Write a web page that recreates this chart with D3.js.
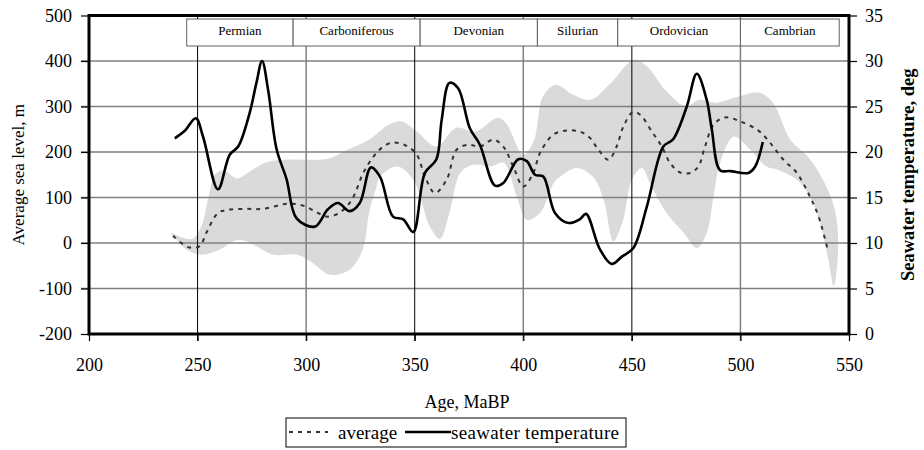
<!DOCTYPE html>
<html>
<head>
<meta charset="utf-8">
<script src="https://cdn.jsdelivr.net/npm/d3@7"></script>
<style>
  body { margin: 0; background: #fff; }
  svg text { font-family: "Liberation Serif", "Times New Roman", serif; fill: #000; }
</style>
</head>
<body>
<svg id="chart" width="924" height="450"></svg>
<script>
// ages (MaBP) and values
var periodNames = ["Permian", "Carboniferous", "Devonian", "Silurian", "Ordovician", "Cambrian"];
var periodBounds = [245, 294, 352.5, 406.5, 443.5, 500, 545.5];

var xTicks = [200, 250, 300, 350, 400, 450, 500, 550];
var levelTicks = [-200, -100, 0, 100, 200, 300, 400, 500];
var tempTicks = [0, 5, 10, 15, 20, 25, 30, 35];

// average sea level, m
var avgAge = [238.7, 245.6, 251, 254, 259.4, 264, 272, 280, 291, 298, 304, 309.4, 315.5, 321, 326.3, 331, 335, 340, 346, 351, 354.7, 359.3, 364.7, 369.3, 374.7, 380, 386.2, 390.8, 395.4, 400, 404.6, 407.7, 413.8, 420, 426, 430.7, 434.6, 439.2, 443, 446.1, 450.5, 453.8, 459.2, 463.8, 467.6, 472.2, 476.8, 480.6, 483.7, 487.6, 493, 500, 508.3, 513.7, 519.8, 526, 532, 536, 540];
var avgLevel = [16, -9, -7, 22, 66, 73, 75, 75, 86, 83, 70, 58, 67, 95, 154, 190, 210, 221, 214, 194, 146, 110, 139, 205, 216, 212, 227, 212, 168, 124, 154, 198, 238, 247, 245, 231, 205, 183, 212, 256, 288, 282, 245, 212, 176, 155, 154, 168, 212, 260, 276, 267, 247, 220, 183, 154, 102, 58, -11];

// seawater temperature, deg
var tempAge = [239.5, 244, 249.2, 252.5, 259.4, 264.8, 268.7, 274, 277.1, 279.7, 282.5, 286.4, 291, 295.6, 304, 310, 314.7, 320, 324.7, 329.8, 334, 340, 344.7, 349.3, 354.7, 360, 362.4, 366, 370, 375.4, 380, 387, 390.8, 397.7, 401.6, 405.4, 409.2, 414.6, 420.7, 426, 428.9, 435.3, 440.7, 445.4, 450.7, 456.9, 464.5, 469, 475.3, 479.9, 484.5, 486.8, 490.6, 495.3, 503.7, 506.8, 510.3];
var tempValue = [21.5, 22.3, 23.7, 21.7, 15.9, 19.7, 20.6, 24.3, 27.6, 30, 26.8, 20.3, 17, 12.7, 11.8, 13.7, 14.4, 13.5, 14.4, 18.3, 17.3, 12.9, 12.6, 11.2, 17.7, 19.2, 23.5, 27.6, 27, 22.6, 20.8, 16.3, 16.6, 19.2, 19, 17.5, 17.3, 13.3, 12.2, 12.6, 13.2, 9.3, 7.7, 8.5, 9.45, 14, 20.6, 21.4, 25, 28.6, 25.7, 22.5, 18, 17.9, 17.7, 18.4, 21.1];

// grey spread band, m (upper edge left to right, lower edge right to left)
var bandUpperAge = [238, 243, 248, 252, 255, 258, 262, 268, 275, 282, 290, 300, 310, 319, 329, 338, 344, 351, 360, 369, 378, 388, 392, 400, 405, 409, 415, 423, 431, 440, 451, 457, 466, 475, 481, 489, 497, 509, 515, 523, 531, 538, 543.5, 545, 543];
var bandUpper = [22, 12, 10, 40, 100, 150, 160, 142, 160, 178, 183, 183, 185, 205, 227, 260, 267, 245, 212, 253, 245, 275, 264, 194, 227, 322, 348, 326, 315, 350, 403, 388, 333, 300, 315, 308, 319, 330, 308, 227, 190, 139, 73, -10, -95];
var bandLowerAge = [540.5, 536.7, 532, 526, 517, 512, 504.5, 497, 490.6, 487.6, 484.5, 480, 474, 466, 459, 454.6, 450, 446, 441.5, 437, 432, 424.6, 417, 414, 407.7, 401.6, 397, 391, 385, 377, 371, 366, 361.6, 357, 349.3, 342, 334, 332.4, 329, 326, 320, 311, 303, 296, 285, 277, 269, 260, 252, 245, 239.5];
var bandLower = [-37, 44, 102, 139, 161, 168, 205, 234, 176, 102, 22, -11, 22, 66, 124, 165, 139, 51, 4, 95, 146, 165, 146, 132, 66, 51, 102, 176, 168, 172, 154, 66, 9, 36, 139, 168, 146, 124, 66, -15, -59, -70, -44, -26, -26, -7, 7, -15, -26, -15, 12];

var svg = d3.select("#chart");
var plotLeft = 89, plotRight = 849, plotTop = 15.5, plotBottom = 334;

var x = d3.scaleLinear().domain([200, 550]).range([plotLeft, plotRight]);
var yLevel = d3.scaleLinear().domain([-200, 500]).range([plotBottom, plotTop]);
var yTemp = d3.scaleLinear().domain([0, 35]).range([plotBottom, plotTop]);

// band
var bandPts = [];
bandUpperAge.forEach(function(a, i) { bandPts.push([x(a), yLevel(bandUpper[i])]); });
bandLowerAge.forEach(function(a, i) { bandPts.push([x(a), yLevel(bandLower[i])]); });
svg.append("path")
	.attr("d", d3.line().curve(d3.curveCatmullRomClosed.alpha(0.5))(bandPts))
	.attr("fill", "#dadada")
	.attr("stroke", "none");

// grid
svg.append("g").selectAll("line").data(levelTicks.slice(1, -1)).join("line")
	.attr("x1", plotLeft - 8).attr("x2", plotRight)
	.attr("y1", function(d) { return yLevel(d); })
	.attr("y2", function(d) { return yLevel(d); })
	.attr("stroke", "#808080").attr("stroke-width", 1.5);
svg.append("g").selectAll("line").data(xTicks.slice(1, -1)).join("line")
	.attr("x1", function(d) { return x(d); })
	.attr("x2", function(d) { return x(d); })
	.attr("y1", plotTop).attr("y2", plotBottom + 7)
	.attr("stroke", function(d) { return d % 100 == 0 ? "#808080" : "#000"; })
	.attr("stroke-width", function(d) { return d % 100 == 0 ? 1.5 : 1; });

// period boxes
var boxTop = 19, boxBottom = 46;
var boxes = svg.append("g");
periodNames.forEach(function(name, i) {
	var x0 = x(periodBounds[i]), x1 = x(periodBounds[i + 1]);
	boxes.append("rect")
		.attr("x", x0).attr("y", boxTop)
		.attr("width", x1 - x0).attr("height", boxBottom - boxTop)
		.attr("fill", "#fff").attr("stroke", "#606060").attr("stroke-width", 1);
	boxes.append("text")
		.text(name)
		.attr("x", (x0 + x1) / 2).attr("y", 34.5)
		.attr("text-anchor", "middle")
		.style("font-size", "13px");
});

// series
svg.append("path")
	.attr("d", d3.line()
		.x(function(d, i) { return x(avgAge[i]); })
		.y(function(d) { return yLevel(d); })
		.curve(d3.curveCatmullRom.alpha(0.5))(avgLevel))
	.attr("fill", "none").attr("stroke", "#333")
	.attr("stroke-width", 2).attr("stroke-dasharray", "4,5");

svg.append("path")
	.attr("d", d3.line()
		.x(function(d, i) { return x(tempAge[i]); })
		.y(function(d) { return yTemp(d); })
		.curve(d3.curveCatmullRom.alpha(0.5))(tempValue))
	.attr("fill", "none").attr("stroke", "#000")
	.attr("stroke-width", 2.6).attr("stroke-linejoin", "round");

// frame
svg.append("rect")
	.attr("x", plotLeft).attr("y", plotTop)
	.attr("width", plotRight - plotLeft).attr("height", plotBottom - plotTop)
	.attr("fill", "none").attr("stroke", "#000").attr("stroke-width", 3);

// axes (plain hyphen for negatives, like the original)
var plain = function(d) { return String(d); };
var gLeft = svg.append("g").attr("transform", "translate(" + plotLeft + ",0)")
	.call(d3.axisLeft(yLevel).tickValues(levelTicks).tickFormat(plain).tickSize(8).tickPadding(9));
var gRight = svg.append("g").attr("transform", "translate(" + plotRight + ",0)")
	.call(d3.axisRight(yTemp).tickValues(tempTicks).tickFormat(plain).tickSize(8).tickPadding(8));
var gBottom = svg.append("g").attr("transform", "translate(0," + plotBottom + ")")
	.call(d3.axisBottom(x).tickValues(xTicks).tickFormat(plain).tickSize(7).tickPadding(17));
[gLeft, gRight, gBottom].forEach(function(g) {
	g.select(".domain").remove();
	g.selectAll(".tick line").attr("stroke", "#000").attr("stroke-width", 1.2);
	g.selectAll("text")
		.style("font-family", "'Liberation Serif', 'Times New Roman', serif")
		.style("font-size", "18px").attr("fill", "#000");
});

// titles
svg.append("text")
	.text("Average sea level, m")
	.attr("transform", "translate(18," + (plotTop + plotBottom) / 2 + ") rotate(-90)")
	.attr("dy", "0.35em")
	.attr("text-anchor", "middle")
	.style("font-size", "17px");
svg.append("text")
	.text("Seawater temperature, deg")
	.attr("transform", "translate(908," + (plotTop + plotBottom) / 2 + ") rotate(-90)")
	.attr("dy", "0.35em")
	.attr("text-anchor", "middle")
	.style("font-size", "18.5px").style("font-weight", "bold");
svg.append("text")
	.text("Age, MaBP")
	.attr("x", 467).attr("y", 407.5)
	.attr("text-anchor", "middle")
	.style("font-size", "18px");

// legend
var lg = svg.append("g");
lg.append("rect")
	.attr("x", 286).attr("y", 418).attr("width", 340).attr("height", 29)
	.attr("fill", "#fff").attr("stroke", "#000").attr("stroke-width", 1);
lg.append("line")
	.attr("x1", 289).attr("x2", 328).attr("y1", 432).attr("y2", 432)
	.attr("stroke", "#333").attr("stroke-width", 2).attr("stroke-dasharray", "4,5");
lg.append("text").text("average")
	.attr("x", 338).attr("y", 438.5).style("font-size", "19px");
lg.append("line")
	.attr("x1", 405).attr("x2", 451).attr("y1", 432).attr("y2", 432)
	.attr("stroke", "#000").attr("stroke-width", 2.6);
lg.append("text").text("seawater temperature")
	.attr("x", 451).attr("y", 438.5).attr("textLength", 168)
	.style("font-size", "19px");
</script>
</body>
</html>
